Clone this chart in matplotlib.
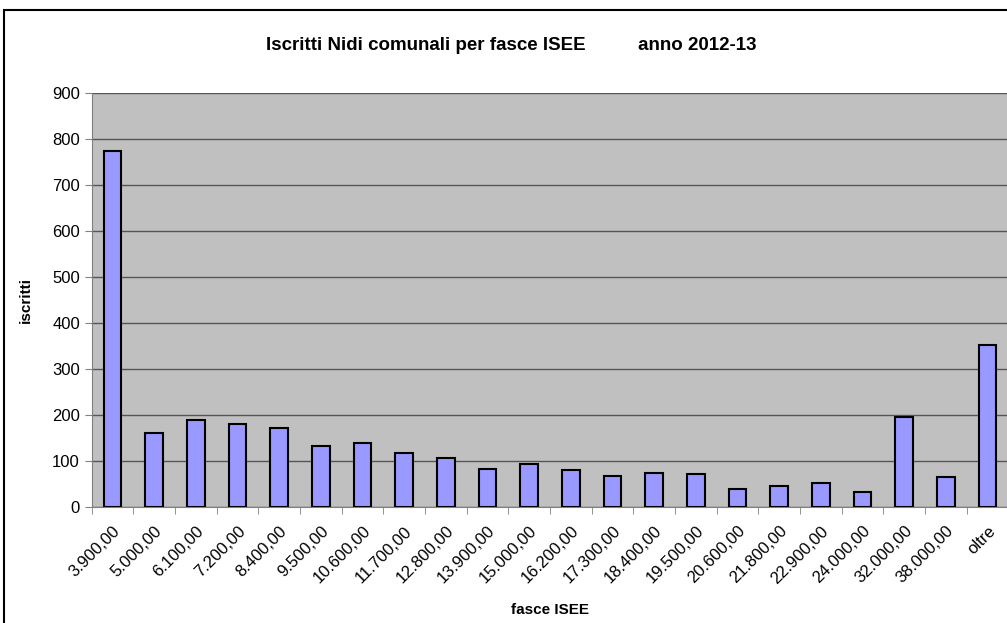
import numpy as np
import matplotlib.pyplot as plt
from matplotlib.patches import Rectangle

# categories (ISEE bands) and number of enrolled children
fasce = ["3.900,00", "5.000,00", "6.100,00", "7.200,00", "8.400,00", "9.500,00",
         "10.600,00", "11.700,00", "12.800,00", "13.900,00", "15.000,00", "16.200,00",
         "17.300,00", "18.400,00", "19.500,00", "20.600,00", "21.800,00", "22.900,00",
         "24.000,00", "32.000,00", "38.000,00", "oltre"]
iscritti = [774, 161, 189, 179, 172, 132, 139, 116, 107, 83, 94, 80,
            67, 73, 72, 39, 46, 51, 32, 195, 65, 351]

yticks = np.arange(0, 901, 100)

plt.rcParams["font.family"] = ["Liberation Sans", "DejaVu Sans"]

fig = plt.figure(figsize=(10.07, 6.23), dpi=100)

# outer chart frame (cut at right and bottom like the screenshot)
fig.patches.append(Rectangle((4 / 1007, -0.1), 1.2, 1 - 10 / 623 + 0.1,
                             transform=fig.transFigure, fill=False,
                             edgecolor="black", linewidth=1.5))

ax = fig.add_axes([0.0911, 0.1867, 0.9103, 0.6635])
ax.set_facecolor("#C0C0C0")

x = np.arange(len(fasce))
ax.bar(x, iscritti, width=0.42, color="#9999FF", edgecolor="black",
       linewidth=1.5, zorder=3)

ax.set_xlim(-0.5, len(fasce) - 0.5)
ax.set_ylim(0, 900)
ax.set_yticks(yticks)
ax.set_yticklabels([str(v) for v in yticks], fontsize=12)
ax.grid(axis="y", color="#555555", linewidth=1, zorder=1)

# category labels at centres, tick marks at boundaries
ax.set_xticks(x)
ax.set_xticklabels(fasce, rotation=45, ha="right", rotation_mode="anchor",
                   fontsize=12)
ax.tick_params(axis="x", which="major", length=0, pad=12)
ax.set_xticks(np.arange(len(fasce) + 1) - 0.5, minor=True)
ax.tick_params(axis="x", which="minor", length=5, color="#808080")
ax.tick_params(axis="y", length=5, color="#808080")

for s in ["top", "right"]:
    ax.spines[s].set_visible(False)
for s in ["left", "bottom"]:
    ax.spines[s].set_color("#808080")

ax.set_ylabel("iscritti", fontsize=11, fontweight="bold", labelpad=14)
ax.set_xlabel("fasce ISEE", fontsize=11, fontweight="bold", labelpad=12)

fig.text(0.508, 1 - 45 / 623, "Iscritti Nidi comunali per fasce ISEE          anno 2012-13",
         ha="center", va="center", fontsize=13.5, fontweight="bold")

plt.savefig("out.png", dpi=100)
plt.close()
